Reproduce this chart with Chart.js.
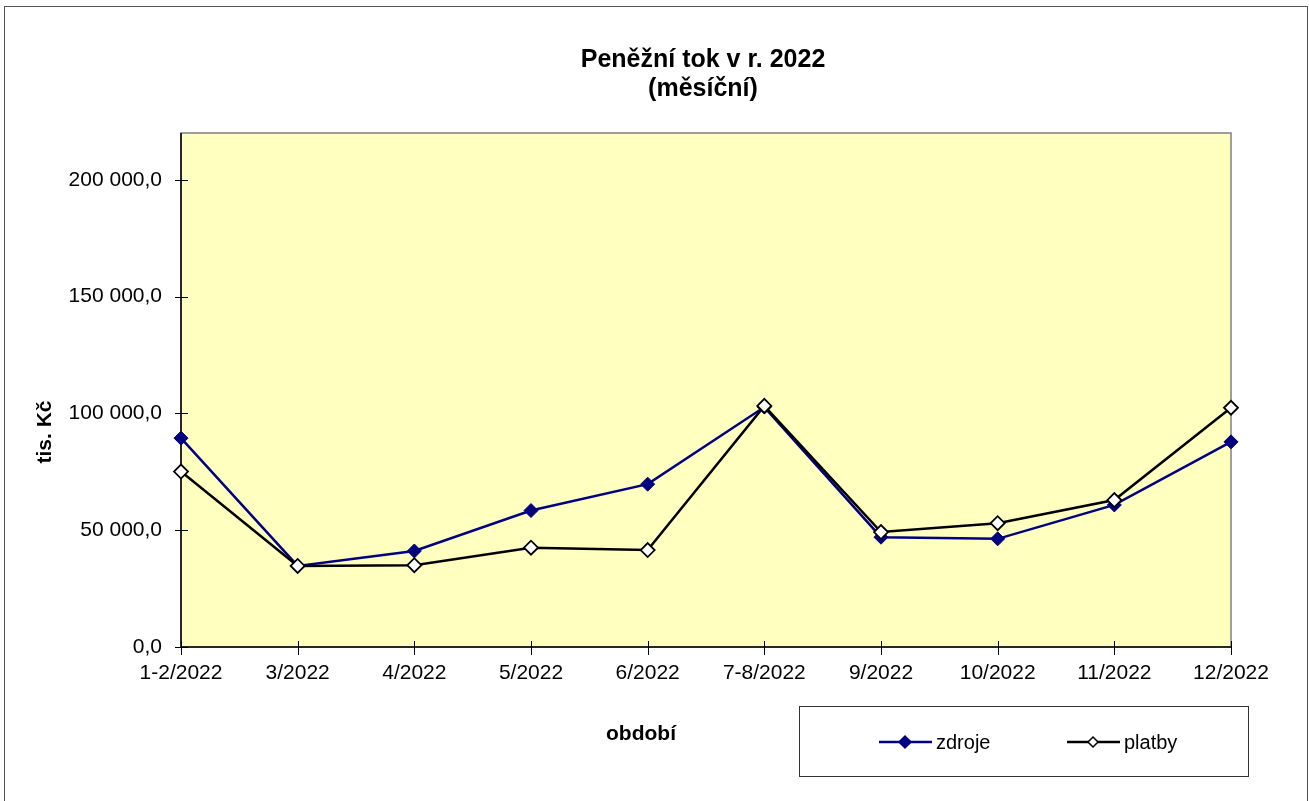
<!DOCTYPE html>
<html>
<head>
<meta charset="utf-8">
<script src="https://cdn.jsdelivr.net/npm/chart.js@4/dist/chart.umd.min.js"></script>
<style>
  html, body { margin: 0; padding: 0; background: #fff; }
  #wrap { width: 1309px; height: 801px; position: relative; }
</style>
</head>
<body>
<div id="wrap"><canvas id="chart" width="1309" height="801"></canvas></div>
<script>
// ==================== DATA ====================
const LABELS = ['1-2/2022', '3/2022', '4/2022', '5/2022', '6/2022', '7-8/2022', '9/2022', '10/2022', '11/2022', '12/2022'];
const ZDROJE = [89400, 34700, 41100, 58400, 69700, 102700, 47000, 46300, 60800, 87800];
const PLATBY = [75100, 34700, 35000, 42500, 41500, 103200, 49200, 53000, 62900, 102400];
const Y_TICKS = [0, 50000, 100000, 150000, 200000];
const TITLE_LINES = ['Peněžní tok v r. 2022', '(měsíční)'];
const X_TITLE = 'období';
const Y_TITLE = 'tis. Kč';
const Y_MAX = 220000;

const FONT = '"Liberation Sans", Arial, sans-serif';

// 200000 -> "200 000,0"
function fmt(v) {
  const parts = v.toFixed(1).split('.');
  return parts[0].replace(/\B(?=(\d{3})+(?!\d))/g, ' ') + ',' + parts[1];
}

// ==================== DECORATION PLUGIN ====================
const excelLook = {
  id: 'excelLook',
  beforeDraw(chart) {
    const { ctx, chartArea: a } = chart;
    ctx.save();
    // outer frame
    ctx.strokeStyle = '#555';
    ctx.lineWidth = 1;
    ctx.strokeRect(4.5, 6.5, 1303, 900);
    // plot area
    ctx.fillStyle = '#FFFFC0';
    ctx.fillRect(a.left, a.top, a.right - a.left, a.bottom - a.top);
    ctx.strokeStyle = '#808080';
    ctx.lineWidth = 1.5;
    ctx.strokeRect(a.left, a.top, a.right - a.left, a.bottom - a.top);
    ctx.restore();
  },
  beforeDatasetsDraw(chart) {
    const { ctx, chartArea: a, scales } = chart;
    ctx.save();
    ctx.strokeStyle = '#000';
    ctx.lineWidth = 1.5;
    ctx.beginPath();
    ctx.moveTo(a.left, a.top);
    ctx.lineTo(a.left, a.bottom);
    ctx.lineTo(a.right, a.bottom);
    ctx.stroke();
    // crossing tick marks
    ctx.lineWidth = 1;
    ctx.beginPath();
    scales.y.ticks.forEach((t, i) => {
      const y = Math.round(scales.y.getPixelForValue(t.value)) + 0.5;
      ctx.moveTo(a.left - 6, y);
      ctx.lineTo(a.left + 7, y);
    });
    LABELS.forEach((l, i) => {
      const x = Math.round(scales.x.getPixelForTick(i)) + 0.5;
      ctx.moveTo(x, a.bottom - 6);
      ctx.lineTo(x, a.bottom + 8);
    });
    ctx.stroke();

    // titles
    ctx.fillStyle = '#000';
    ctx.textAlign = 'center';
    ctx.textBaseline = 'alphabetic';
    ctx.font = 'bold 25px ' + FONT;
    ctx.fillText(TITLE_LINES[0], 703, 67);
    ctx.fillText(TITLE_LINES[1], 703, 96);

    ctx.font = 'bold 21px ' + FONT;
    ctx.textBaseline = 'middle';
    ctx.fillText(X_TITLE, 641, 734);

    ctx.save();
    ctx.translate(45, 432);
    ctx.rotate(-Math.PI / 2);
    ctx.fillText(Y_TITLE, 0, 0);
    ctx.restore();

    // legend box
    ctx.strokeStyle = '#333';
    ctx.lineWidth = 1;
    ctx.strokeRect(799.5, 706.5, 449, 70);
    ctx.font = '20px ' + FONT;
    ctx.textAlign = 'left';
    const items = [
      { ds: chart.data.datasets[0], x0: 879 },
      { ds: chart.data.datasets[1], x0: 1067 }
    ];
    items.forEach(({ ds, x0 }) => {
      const y = 742;
      ctx.strokeStyle = ds.borderColor;
      ctx.lineWidth = 2.5;
      ctx.beginPath();
      ctx.moveTo(x0, y);
      ctx.lineTo(x0 + 53, y);
      ctx.stroke();
      const cx = x0 + 26;
      const r = ds.label === 'zdroje' ? 6 : 5;
      ctx.beginPath();
      ctx.moveTo(cx - r, y);
      ctx.lineTo(cx, y - r);
      ctx.lineTo(cx + r, y);
      ctx.lineTo(cx, y + r);
      ctx.closePath();
      ctx.fillStyle = ds.pointBackgroundColor;
      ctx.fill();
      ctx.strokeStyle = ds.pointBorderColor;
      ctx.lineWidth = 1.5;
      ctx.stroke();
      ctx.fillStyle = '#000';
      ctx.fillText(ds.label, x0 + 57, y + 1);
    });
    ctx.restore();
  }
};

// ==================== CHART ====================
const ctx = document.getElementById('chart').getContext('2d');
new Chart(ctx, {
  type: 'line',
  data: {
    labels: LABELS,
    datasets: [
      {
        label: 'zdroje',
        data: ZDROJE,
        borderColor: '#000080',
        backgroundColor: '#000080',
        pointBackgroundColor: '#000080',
        pointBorderColor: '#000080',
        borderWidth: 2.5,
        pointStyle: 'rectRot',
        pointRadius: 7,
        pointBorderWidth: 1,
        tension: 0,
        clip: false,
        order: 1
      },
      {
        label: 'platby',
        data: PLATBY,
        borderColor: '#000000',
        backgroundColor: '#ffffff',
        pointBackgroundColor: '#ffffff',
        pointBorderColor: '#000000',
        borderWidth: 2.5,
        pointStyle: 'rectRot',
        pointRadius: 7,
        pointBorderWidth: 1.8,
        tension: 0,
        clip: false,
        order: 0
      }
    ]
  },
  options: {
    responsive: false,
    animation: false,
    events: [],
    layout: { padding: { top: 133, right: 78, left: 0, bottom: 0 } },
    plugins: {
      legend: { display: false },
      title: { display: false },
      tooltip: { enabled: false }
    },
    scales: {
      x: {
        offset: false,
        grid: { display: false },
        border: { display: false },
        ticks: {
          color: '#000',
          font: { family: FONT, size: 21 },
          padding: 6,
          maxRotation: 0,
          autoSkip: false
        },
        afterFit: s => { s.height = 154; }
      },
      y: {
        min: 0,
        max: Y_MAX,
        grid: { display: false },
        border: { display: false },
        ticks: {
          color: '#000',
          font: { family: FONT, size: 21 },
          padding: 11,
          autoSkip: false,
          callback: v => fmt(v)
        },
        afterBuildTicks: s => { s.ticks = Y_TICKS.map(v => ({ value: v })); },
        afterFit: s => { s.width = 181; }
      }
    }
  },
  plugins: [excelLook]
});
</script>
</body>
</html>
